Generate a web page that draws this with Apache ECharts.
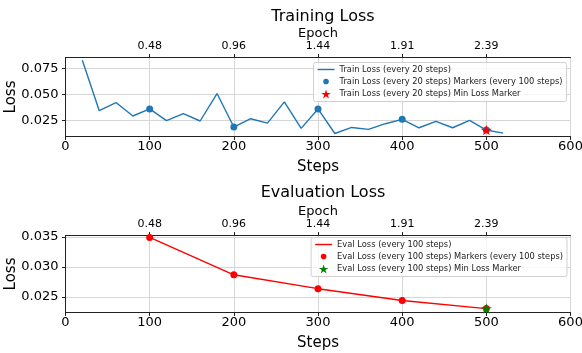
<!DOCTYPE html>
<html>
<head>
<meta charset="utf-8">
<script src="https://cdn.jsdelivr.net/npm/echarts@6/dist/echarts.min.js"></script>
<style>
  html, body { margin: 0; padding: 0; background: #fff; }
  #main { width: 582px; height: 353px; }
</style>
</head>
<body>
<div id="main"></div>
<script>
// training loss, logged every 20 steps
var trainSteps = [20, 40, 60, 80, 100, 120, 140, 160, 180, 200, 220, 240, 260,
  280, 300, 320, 340, 360, 380, 400, 420, 440, 460, 480, 500, 520];
var trainLoss = [0.0831, 0.0347, 0.0424, 0.0295, 0.0363, 0.0250, 0.0318, 0.0247,
  0.0511, 0.0189, 0.0269, 0.0227, 0.0431, 0.0176, 0.0363, 0.0127, 0.0185, 0.0166,
  0.0221, 0.0263, 0.0182, 0.0243, 0.0182, 0.0253, 0.0160, 0.0131];
var trainMarkerSteps = [100, 200, 300, 400, 500];
var trainMinStep = 500;

// eval loss, every 100 steps
var evalSteps = [100, 200, 300, 400, 500];
var evalLoss = [0.0349, 0.0287, 0.0264, 0.02445, 0.0231];
var evalMinStep = 500;

// secondary axis
var epochTicks = [100, 200, 300, 400, 500];
var epochLabels = ['0.48', '0.96', '1.44', '1.91', '2.39'];

var trainTicks = [0.025, 0.05, 0.075];
var evalTicks = [0.025, 0.03, 0.035];

var STAR = 'path://M50,0L61.2,34.5L97.6,34.5L68.2,55.9L79.4,90.5L50,69.1L20.6,90.5L31.8,55.9L2.4,34.5L38.8,34.5Z';
// legend-only icons (padded so they come out smaller than the item box)
var LINE_ICON = 'path://M0,0L34,0L34,2.8L0,2.8Z';
var DOT_ICON = 'path://M0,0L0.01,0L0,0.01Z M3,8A5,5 0 1 1 13,8A5,5 0 1 1 3,8Z M16,16L15.99,16L16,15.99Z';
var FONT = 'DejaVu Sans';

function pairs(xs, ys) {
  return xs.map(function (x, i) { return [x, ys[i]]; });
}
function pick(xs, ys, wanted) {
  return wanted.map(function (w) { return [w, ys[xs.indexOf(w)]]; });
}

var trainName = 'Train Loss (every 20 steps)';
var evalName = 'Eval Loss (every 100 steps)';

function stepsAxis(grid) {
  return {
    type: 'value', gridIndex: grid, position: 'bottom',
    min: 0, max: 600, interval: 100,
    name: 'Steps', nameLocation: 'middle', nameGap: 23.5, nameMoveOverlap: false,
    nameTextStyle: { fontFamily: FONT, fontSize: 15, color: '#000' },
    axisLine: { show: true, lineStyle: { color: '#222', width: 1 } },
    axisTick: { show: true, length: 3.5, lineStyle: { color: '#222' } },
    axisLabel: { fontFamily: FONT, fontSize: 13, color: '#000', margin: 4 },
    splitLine: { show: true, lineStyle: { color: '#d6d6d6', width: 1 } }
  };
}
function epochAxis(grid) {
  return {
    type: 'value', gridIndex: grid, position: 'top',
    min: 0, max: 600,
    name: 'Epoch', nameLocation: 'middle', nameGap: 17.5, nameMoveOverlap: false,
    nameTextStyle: { fontFamily: FONT, fontSize: 13, color: '#000' },
    axisLine: { show: true, lineStyle: { color: '#222', width: 1 } },
    axisTick: { show: true, length: 3.5, customValues: epochTicks, lineStyle: { color: '#222' } },
    axisLabel: {
      fontFamily: FONT, fontSize: 11, color: '#000', margin: 6,
      customValues: epochTicks,
      formatter: function (v) { return epochLabels[epochTicks.indexOf(v)]; }
    },
    splitLine: { show: false }
  };
}
function lossAxis(grid, lo, hi, ticks, pos) {
  var right = pos === 'right';
  return {
    type: 'value', gridIndex: grid, min: lo, max: hi, position: pos,
    name: right ? '' : 'Loss', nameLocation: 'middle', nameGap: 47, nameMoveOverlap: false,
    nameTextStyle: { fontFamily: FONT, fontSize: 15, color: '#000' },
    axisLine: { show: true, lineStyle: { color: '#222', width: 1 } },
    axisTick: { show: !right, length: 3.5, customValues: ticks, lineStyle: { color: '#222' } },
    axisLabel: {
      show: !right,
      fontFamily: FONT, fontSize: 13, color: '#000', margin: 7,
      customValues: ticks,
      formatter: function (v) { return v.toFixed(3); }
    },
    splitLine: { show: !right, lineStyle: { color: '#d6d6d6', width: 1 } }
  };
}
function legendBox(top, right, name) {
  return {
    orient: 'vertical', top: top, right: right,
    itemWidth: 17, itemHeight: 9, itemGap: 3.5,
    padding: [3, 4, 3, 4],
    backgroundColor: 'rgba(255,255,255,0.8)',
    borderColor: '#d0d0d0', borderWidth: 1, borderRadius: 2,
    textStyle: { fontFamily: FONT, fontSize: 8.3, color: '#222' },
    data: [
      { name: name, icon: LINE_ICON },
      { name: name + ' Markers (every 100 steps)', icon: DOT_ICON },
      { name: name + ' Min Loss Marker', icon: STAR }
    ]
  };
}

var myChart = echarts.init(document.getElementById('main'));
var option = {
  animation: false,
  title: [
    { text: 'Training Loss', left: 318, top: 4, textAlign: 'center',
      textStyle: { fontFamily: FONT, fontSize: 16, fontWeight: 'normal', color: '#000' } },
    { text: 'Evaluation Loss', left: 318, top: 180, textAlign: 'center',
      textStyle: { fontFamily: FONT, fontSize: 16, fontWeight: 'normal', color: '#000' } }
  ],
  grid: [
    { left: 65.5, right: 11.5, top: 57.5, height: 79, outerBoundsMode: 'none' },
    { left: 65.5, right: 11.5, top: 235.5, height: 77, outerBoundsMode: 'none' }
  ],
  xAxis: [stepsAxis(0), epochAxis(0), stepsAxis(1), epochAxis(1)],
  yAxis: [
    lossAxis(0, 0.0098, 0.0857, trainTicks, 'left'),
    lossAxis(0, 0.0098, 0.0857, trainTicks, 'right'),
    lossAxis(1, 0.02245, 0.03522, evalTicks, 'left'),
    lossAxis(1, 0.02245, 0.03522, evalTicks, 'right')
  ],
  legend: [
    legendBox(62.5, 15.5, trainName),
    legendBox(237.5, 15, evalName)
  ],
  series: [
    {
      name: trainName, type: 'line', xAxisIndex: 0, yAxisIndex: 0,
      data: pairs(trainSteps, trainLoss), symbol: 'none',
      lineStyle: { color: '#1f77b4', width: 1.4 }, itemStyle: { color: '#1f77b4' }
    },
    {
      name: trainName + ' Markers (every 100 steps)', type: 'scatter', xAxisIndex: 0, yAxisIndex: 0,
      data: pick(trainSteps, trainLoss, trainMarkerSteps), symbolSize: 7,
      itemStyle: { color: '#1f77b4', opacity: 1 }, z: 3
    },
    {
      name: trainName + ' Min Loss Marker', type: 'scatter', xAxisIndex: 0, yAxisIndex: 0,
      data: pick(trainSteps, trainLoss, [trainMinStep]), symbol: STAR, symbolSize: [11, 10.5],
      itemStyle: { color: '#ff0000', opacity: 1 }, z: 4
    },
    {
      name: evalName, type: 'line', xAxisIndex: 2, yAxisIndex: 2,
      data: pairs(evalSteps, evalLoss), symbol: 'none',
      lineStyle: { color: '#ff0000', width: 1.4 }, itemStyle: { color: '#ff0000' }
    },
    {
      name: evalName + ' Markers (every 100 steps)', type: 'scatter', xAxisIndex: 2, yAxisIndex: 2,
      data: pick(evalSteps, evalLoss, evalSteps), symbolSize: 7,
      itemStyle: { color: '#ff0000', opacity: 1 }, z: 3
    },
    {
      name: evalName + ' Min Loss Marker', type: 'scatter', xAxisIndex: 2, yAxisIndex: 2,
      data: pick(evalSteps, evalLoss, [evalMinStep]), symbol: STAR, symbolSize: [11, 10.5],
      itemStyle: { color: '#008000', opacity: 1 }, z: 4
    }
  ]
};
myChart.setOption(option);
</script>
</body>
</html>
